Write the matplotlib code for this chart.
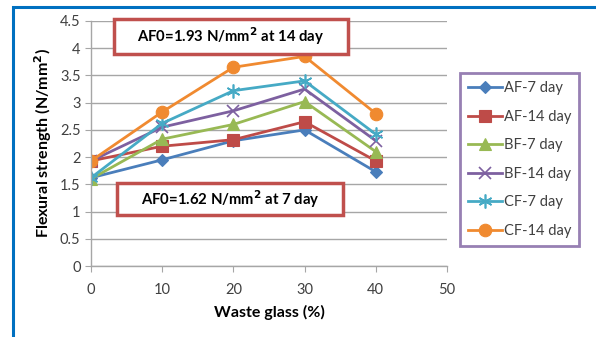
import matplotlib
matplotlib.use("Agg")
import matplotlib.pyplot as plt
from matplotlib.patches import Rectangle

plt.rcParams['font.family'] = ['Lato', 'DejaVu Sans']

glass = [0, 10, 20, 30, 40]
af7 = [1.62, 1.95, 2.30, 2.50, 1.73]
af14 = [1.93, 2.20, 2.32, 2.65, 1.93]
bf7 = [1.60, 2.33, 2.60, 3.02, 2.10]
bf14 = [1.93, 2.55, 2.85, 3.25, 2.30]
cf7 = [1.62, 2.62, 3.22, 3.40, 2.42]
cf14 = [1.93, 2.83, 3.65, 3.85, 2.80]
labels = ['AF-7 day', 'AF-14 day', 'BF-7 day', 'BF-14 day', 'CF-7 day', 'CF-14 day']

W, H = 596, 337
fig = plt.figure(figsize=(5.96, 3.37), dpi=100)
fig.patch.set_facecolor('white')
fig.patches.append(Rectangle((13/W, -0.1), 1.2, (H-7)/H + 0.1, transform=fig.transFigure,
                             fill=False, edgecolor='#0070c0', linewidth=2.2))

ax = fig.add_axes([91/W, (H-266)/H, (447-91)/W, (266-21)/H])

series = [af7, af14, bf7, bf14, cf7, cf14]
colors = ['#4a7ebb', '#be4b48', '#98b954', '#7d60a0', '#46aac5', '#f08a30']
markers = ['D', 's', '^', 'x', (6, 2, 0), 'o']
msizes = [6, 8, 8, 8, 10, 9]
for s, c, m, ms, lab in zip(series, colors, markers, msizes, labels):
    ax.plot(glass, s, color=c, marker=m, markersize=ms, linewidth=2, label=lab,
            markeredgewidth=1.2 if m in ('x', (6, 2, 0)) else 0.8)

ax.set_xlim(0, 50)
ax.set_ylim(0, 4.5)
ax.set_xticks(range(0, 51, 10))
ax.set_yticks([i * 0.5 for i in range(10)])
ax.set_yticklabels(['0', '0.5', '1', '1.5', '2', '2.5', '3', '3.5', '4', '4.5'])
ax.grid(axis='y', color='#a6a6a6', linewidth=1)
ax.set_axisbelow(True)
for sp in ['top', 'right']:
    ax.spines[sp].set_visible(False)
for sp in ['left', 'bottom']:
    ax.spines[sp].set_color('#a6a6a6')
    ax.spines[sp].set_linewidth(1)
ax.tick_params(axis='both', colors='#a6a6a6', labelcolor='#404040', labelsize=10.5, length=4)
ax.tick_params(axis='x', pad=8)

ax.set_xlabel('Waste glass (%)', fontsize=11.5, fontweight='bold', labelpad=6)
ax.set_ylabel('Flexural strength (N/mm$^\\mathbf{2}$)', fontsize=11.5, fontweight='bold', labelpad=4)

leg = ax.legend(loc='upper left', bbox_to_anchor=(460/W, (H-73)/H), bbox_transform=fig.transFigure,
                frameon=True, fancybox=False, fontsize=10.5, handlelength=2.3, labelspacing=1.0,
                borderpad=0.55, handletextpad=0.15, borderaxespad=0)
leg.get_frame().set_edgecolor('#7d60a0')
leg.get_frame().set_linewidth(2)
for t in leg.get_texts():
    t.set_color('#404040')

def ann_box(x0, y0, x1, y1, text):
    fig.patches.append(Rectangle((x0/W, (H-y1)/H), (x1-x0)/W, (y1-y0)/H, transform=fig.transFigure,
                                 facecolor='white', edgecolor='#c0504d', linewidth=2.5, zorder=5))
    fig.text((x0+x1)/2/W, (H-(y0+y1)/2)/H, text, ha='center', va='center',
             fontsize=10.7, fontweight='bold', zorder=6)

ann_box(114, 19, 348, 54, 'AF0=1.93 N/mm$^\\mathbf{2}$ at 14 day')
ann_box(117, 183, 343, 215, 'AF0=1.62 N/mm$^\\mathbf{2}$ at 7 day')

fig.savefig('out.png', dpi=100)
